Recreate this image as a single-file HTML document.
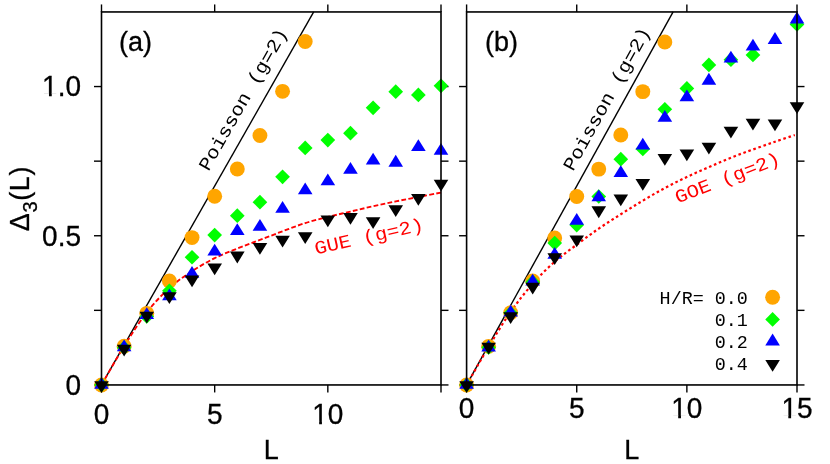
<!DOCTYPE html><html><head><meta charset="utf-8"><style>html,body{margin:0;padding:0;background:#fff}svg{display:block;opacity:0.999;will-change:transform}</style></head><body><svg width="830" height="464" viewBox="0 0 830 464">
<rect width="830" height="464" fill="#fff"/>
<style>.t{font-family:"Liberation Sans",sans-serif;font-size:27px;fill:#000;stroke:#000;stroke-width:0.3px}.m{font-family:"Liberation Mono",monospace;font-size:20.6px}</style>
<line x1="101.50" y1="384.95" x2="101.50" y2="392.45" stroke="#000" stroke-width="1.4"/>
<line x1="101.50" y1="11.95" x2="101.50" y2="4.45" stroke="#000" stroke-width="1.4"/>
<line x1="214.67" y1="384.95" x2="214.67" y2="392.45" stroke="#000" stroke-width="1.4"/>
<line x1="214.67" y1="11.95" x2="214.67" y2="4.45" stroke="#000" stroke-width="1.4"/>
<line x1="327.83" y1="384.95" x2="327.83" y2="392.45" stroke="#000" stroke-width="1.4"/>
<line x1="327.83" y1="11.95" x2="327.83" y2="4.45" stroke="#000" stroke-width="1.4"/>
<line x1="441.00" y1="384.95" x2="441.00" y2="392.45" stroke="#000" stroke-width="1.4"/>
<line x1="441.00" y1="11.95" x2="441.00" y2="4.45" stroke="#000" stroke-width="1.4"/>
<line x1="94.00" y1="384.95" x2="101.50" y2="384.95" stroke="#000" stroke-width="1.4"/>
<line x1="441.00" y1="384.95" x2="448.50" y2="384.95" stroke="#000" stroke-width="1.4"/>
<line x1="94.00" y1="310.35" x2="101.50" y2="310.35" stroke="#000" stroke-width="1.4"/>
<line x1="441.00" y1="310.35" x2="448.50" y2="310.35" stroke="#000" stroke-width="1.4"/>
<line x1="94.00" y1="235.75" x2="101.50" y2="235.75" stroke="#000" stroke-width="1.4"/>
<line x1="441.00" y1="235.75" x2="448.50" y2="235.75" stroke="#000" stroke-width="1.4"/>
<line x1="94.00" y1="161.15" x2="101.50" y2="161.15" stroke="#000" stroke-width="1.4"/>
<line x1="441.00" y1="161.15" x2="448.50" y2="161.15" stroke="#000" stroke-width="1.4"/>
<line x1="94.00" y1="86.55" x2="101.50" y2="86.55" stroke="#000" stroke-width="1.4"/>
<line x1="441.00" y1="86.55" x2="448.50" y2="86.55" stroke="#000" stroke-width="1.4"/>
<line x1="101.50" y1="384.95" x2="313.69" y2="11.95" stroke="#000" stroke-width="1.4"/>
<path d="M101.50 384.95C105.27 378.48 116.59 358.24 124.13 346.16C131.68 334.07 139.22 322.14 146.77 312.44C154.31 302.74 161.86 294.83 169.40 287.97C176.94 281.11 184.49 276.23 192.03 271.26C199.58 266.29 207.12 261.91 214.67 258.13C222.21 254.35 229.76 251.61 237.30 248.58C244.84 245.55 252.39 242.81 259.93 239.93C267.48 237.04 275.02 234.08 282.57 231.27C290.11 228.46 297.66 225.46 305.20 223.07C312.74 220.68 320.29 218.87 327.83 216.95C335.38 215.04 342.92 213.37 350.47 211.58C358.01 209.79 365.56 207.90 373.10 206.21C380.64 204.52 388.19 202.98 395.73 201.43C403.28 199.89 410.82 198.44 418.37 196.96C425.91 195.48 437.23 193.30 441.00 192.57" fill="none" stroke="#ff0000" stroke-width="1.9" stroke-dasharray="4.8 2.3"/>
<circle cx="101.50" cy="384.95" r="7.45" fill="#ffa500"/>
<circle cx="124.13" cy="346.20" r="7.45" fill="#ffa500"/>
<circle cx="146.77" cy="313.34" r="7.45" fill="#ffa500"/>
<circle cx="169.40" cy="281.07" r="7.45" fill="#ffa500"/>
<circle cx="192.03" cy="237.59" r="7.45" fill="#ffa500"/>
<circle cx="214.67" cy="196.21" r="7.45" fill="#ffa500"/>
<circle cx="237.30" cy="169.02" r="7.45" fill="#ffa500"/>
<circle cx="259.93" cy="135.55" r="7.45" fill="#ffa500"/>
<circle cx="282.57" cy="91.33" r="7.45" fill="#ffa500"/>
<circle cx="305.20" cy="41.43" r="7.45" fill="#ffa500"/>
<path d="M101.50 377.60L108.85 384.95L101.50 392.30L94.15 384.95Z" fill="#00ff00"/>
<path d="M124.13 340.35L131.48 347.70L124.13 355.05L116.78 347.70Z" fill="#00ff00"/>
<path d="M146.77 309.12L154.12 316.47L146.77 323.82L139.42 316.47Z" fill="#00ff00"/>
<path d="M169.40 283.52L176.75 290.87L169.40 298.22L162.05 290.87Z" fill="#00ff00"/>
<path d="M192.03 249.90L199.38 257.25L192.03 264.60L184.68 257.25Z" fill="#00ff00"/>
<path d="M214.67 227.70L222.02 235.05L214.67 242.40L207.32 235.05Z" fill="#00ff00"/>
<path d="M237.30 208.28L244.65 215.63L237.30 222.98L229.95 215.63Z" fill="#00ff00"/>
<path d="M259.93 194.83L267.28 202.18L259.93 209.53L252.58 202.18Z" fill="#00ff00"/>
<path d="M282.57 169.44L289.92 176.79L282.57 184.14L275.22 176.79Z" fill="#00ff00"/>
<path d="M305.20 140.54L312.55 147.89L305.20 155.24L297.85 147.89Z" fill="#00ff00"/>
<path d="M327.83 132.77L335.18 140.12L327.83 147.47L320.48 140.12Z" fill="#00ff00"/>
<path d="M350.47 125.81L357.82 133.16L350.47 140.51L343.12 133.16Z" fill="#00ff00"/>
<path d="M373.10 100.47L380.45 107.82L373.10 115.17L365.75 107.82Z" fill="#00ff00"/>
<path d="M395.73 84.28L403.08 91.63L395.73 98.98L388.38 91.63Z" fill="#00ff00"/>
<path d="M418.37 87.56L425.72 94.91L418.37 102.26L411.02 94.91Z" fill="#00ff00"/>
<path d="M441.00 78.45L448.35 85.80L441.00 93.15L433.65 85.80Z" fill="#00ff00"/>
<path d="M101.50 376.93L108.80 388.73L94.20 388.73Z" fill="#0000ff"/>
<path d="M124.13 339.47L131.43 351.27L116.83 351.27Z" fill="#0000ff"/>
<path d="M146.77 307.17L154.07 318.97L139.47 318.97Z" fill="#0000ff"/>
<path d="M169.40 288.52L176.70 300.32L162.10 300.32Z" fill="#0000ff"/>
<path d="M192.03 266.02L199.33 277.82L184.73 277.82Z" fill="#0000ff"/>
<path d="M214.67 243.76L221.97 255.56L207.37 255.56Z" fill="#0000ff"/>
<path d="M237.30 223.14L244.60 234.94L230.00 234.94Z" fill="#0000ff"/>
<path d="M259.93 218.96L267.23 230.76L252.63 230.76Z" fill="#0000ff"/>
<path d="M282.57 201.03L289.87 212.83L275.27 212.83Z" fill="#0000ff"/>
<path d="M305.20 182.51L312.50 194.31L297.90 194.31Z" fill="#0000ff"/>
<path d="M327.83 173.54L335.13 185.34L320.53 185.34Z" fill="#0000ff"/>
<path d="M350.47 161.89L357.77 173.69L343.17 173.69Z" fill="#0000ff"/>
<path d="M373.10 152.63L380.40 164.43L365.80 164.43Z" fill="#0000ff"/>
<path d="M395.73 154.84L403.03 166.64L388.43 166.64Z" fill="#0000ff"/>
<path d="M418.37 139.18L425.67 150.98L411.07 150.98Z" fill="#0000ff"/>
<path d="M441.00 143.06L448.30 154.86L433.70 154.86Z" fill="#0000ff"/>
<path d="M101.50 392.97L108.80 381.17L94.20 381.17Z" fill="#000000"/>
<path d="M124.13 356.53L131.43 344.73L116.83 344.73Z" fill="#000000"/>
<path d="M146.77 323.45L154.07 311.65L139.47 311.65Z" fill="#000000"/>
<path d="M169.40 304.03L176.70 292.23L162.10 292.23Z" fill="#000000"/>
<path d="M192.03 287.24L199.33 275.44L184.73 275.44Z" fill="#000000"/>
<path d="M214.67 275.20L221.97 263.40L207.37 263.40Z" fill="#000000"/>
<path d="M237.30 263.39L244.60 251.59L230.00 251.59Z" fill="#000000"/>
<path d="M259.93 254.73L267.23 242.93L252.63 242.93Z" fill="#000000"/>
<path d="M282.57 247.56L289.87 235.76L275.27 235.76Z" fill="#000000"/>
<path d="M305.20 244.12L312.50 232.32L297.90 232.32Z" fill="#000000"/>
<path d="M327.83 227.30L335.13 215.50L320.53 215.50Z" fill="#000000"/>
<path d="M350.47 224.70L357.77 212.90L343.17 212.90Z" fill="#000000"/>
<path d="M373.10 229.09L380.40 217.29L365.80 217.29Z" fill="#000000"/>
<path d="M395.73 216.93L403.03 205.13L388.43 205.13Z" fill="#000000"/>
<path d="M418.37 205.84L425.67 194.04L411.07 194.04Z" fill="#000000"/>
<path d="M441.00 191.62L448.30 179.82L433.70 179.82Z" fill="#000000"/>
<rect x="101.50" y="11.95" width="339.50" height="373.00" fill="none" stroke="#000" stroke-width="1.6"/>
<text transform="translate(101.50,423.9) scale(1,1.03)" class="t" style="font-size:28px" text-anchor="middle">0</text>
<text transform="translate(214.67,423.9) scale(1,1.03)" class="t" style="font-size:28px" text-anchor="middle">5</text>
<text transform="translate(327.83,423.9) scale(1,1.03)" class="t" style="font-size:28px" text-anchor="middle">10</text>
<rect x="313.40" y="420.75" width="5.76" height="4.85" fill="#fff"/>
<rect x="321.93" y="420.75" width="5.54" height="4.85" fill="#fff"/>
<text x="271.25" y="459" class="t" text-anchor="middle" style="font-size:27px">L</text>
<line x1="466.60" y1="384.95" x2="466.60" y2="392.45" stroke="#000" stroke-width="1.4"/>
<line x1="466.60" y1="11.95" x2="466.60" y2="4.45" stroke="#000" stroke-width="1.4"/>
<line x1="576.73" y1="384.95" x2="576.73" y2="392.45" stroke="#000" stroke-width="1.4"/>
<line x1="576.73" y1="11.95" x2="576.73" y2="4.45" stroke="#000" stroke-width="1.4"/>
<line x1="686.87" y1="384.95" x2="686.87" y2="392.45" stroke="#000" stroke-width="1.4"/>
<line x1="686.87" y1="11.95" x2="686.87" y2="4.45" stroke="#000" stroke-width="1.4"/>
<line x1="797.00" y1="384.95" x2="797.00" y2="392.45" stroke="#000" stroke-width="1.4"/>
<line x1="797.00" y1="11.95" x2="797.00" y2="4.45" stroke="#000" stroke-width="1.4"/>
<line x1="459.10" y1="384.95" x2="466.60" y2="384.95" stroke="#000" stroke-width="1.4"/>
<line x1="797.00" y1="384.95" x2="804.50" y2="384.95" stroke="#000" stroke-width="1.4"/>
<line x1="459.10" y1="310.35" x2="466.60" y2="310.35" stroke="#000" stroke-width="1.4"/>
<line x1="797.00" y1="310.35" x2="804.50" y2="310.35" stroke="#000" stroke-width="1.4"/>
<line x1="459.10" y1="235.75" x2="466.60" y2="235.75" stroke="#000" stroke-width="1.4"/>
<line x1="797.00" y1="235.75" x2="804.50" y2="235.75" stroke="#000" stroke-width="1.4"/>
<line x1="459.10" y1="161.15" x2="466.60" y2="161.15" stroke="#000" stroke-width="1.4"/>
<line x1="797.00" y1="161.15" x2="804.50" y2="161.15" stroke="#000" stroke-width="1.4"/>
<line x1="459.10" y1="86.55" x2="466.60" y2="86.55" stroke="#000" stroke-width="1.4"/>
<line x1="797.00" y1="86.55" x2="804.50" y2="86.55" stroke="#000" stroke-width="1.4"/>
<line x1="466.60" y1="384.95" x2="673.10" y2="11.95" stroke="#000" stroke-width="1.4"/>
<path d="M466.60 384.95C470.27 378.58 481.28 358.94 488.63 346.75C495.97 334.57 503.31 322.34 510.65 311.84C518.00 301.35 525.34 292.15 532.68 283.79C540.02 275.44 547.36 268.23 554.71 261.71C562.05 255.20 569.39 250.22 576.73 244.70C584.08 239.18 591.42 233.66 598.76 228.59C606.10 223.52 613.44 218.92 620.79 214.27C628.13 209.62 635.47 205.06 642.81 200.69C650.16 196.31 657.50 191.96 664.84 188.01C672.18 184.05 679.52 180.45 686.87 176.97C694.21 173.48 701.55 170.33 708.89 167.12C716.24 163.91 723.58 160.65 730.92 157.72C738.26 154.78 745.60 152.17 752.95 149.51C760.29 146.85 768.00 144.17 774.97 141.75C781.95 139.34 791.49 136.16 794.80 135.04" fill="none" stroke="#ff0000" stroke-width="2.2" stroke-dasharray="2.6 2.7"/>
<circle cx="466.60" cy="384.95" r="7.45" fill="#ffa500"/>
<circle cx="488.63" cy="346.35" r="7.45" fill="#ffa500"/>
<circle cx="510.65" cy="312.74" r="7.45" fill="#ffa500"/>
<circle cx="532.68" cy="280.92" r="7.45" fill="#ffa500"/>
<circle cx="554.71" cy="238.04" r="7.45" fill="#ffa500"/>
<circle cx="576.73" cy="196.51" r="7.45" fill="#ffa500"/>
<circle cx="598.76" cy="169.11" r="7.45" fill="#ffa500"/>
<circle cx="620.79" cy="134.95" r="7.45" fill="#ffa500"/>
<circle cx="642.81" cy="91.63" r="7.45" fill="#ffa500"/>
<circle cx="664.84" cy="42.03" r="7.45" fill="#ffa500"/>
<path d="M466.60 377.60L473.95 384.95L466.60 392.30L459.25 384.95Z" fill="#00ff00"/>
<path d="M488.63 340.05L495.98 347.40L488.63 354.75L481.28 347.40Z" fill="#00ff00"/>
<path d="M510.65 305.69L518.00 313.04L510.65 320.39L503.30 313.04Z" fill="#00ff00"/>
<path d="M532.68 274.61L540.03 281.96L532.68 289.31L525.33 281.96Z" fill="#00ff00"/>
<path d="M554.71 235.77L562.06 243.12L554.71 250.47L547.36 243.12Z" fill="#00ff00"/>
<path d="M576.73 217.69L584.08 225.04L576.73 232.39L569.38 225.04Z" fill="#00ff00"/>
<path d="M598.76 189.16L606.11 196.51L598.76 203.86L591.41 196.51Z" fill="#00ff00"/>
<path d="M620.79 151.81L628.14 159.16L620.79 166.51L613.44 159.16Z" fill="#00ff00"/>
<path d="M642.81 141.65L650.16 149.00L642.81 156.35L635.46 149.00Z" fill="#00ff00"/>
<path d="M664.84 101.91L672.19 109.26L664.84 116.61L657.49 109.26Z" fill="#00ff00"/>
<path d="M686.87 81.05L694.22 88.40L686.87 95.75L679.52 88.40Z" fill="#00ff00"/>
<path d="M708.89 57.53L716.24 64.88L708.89 72.23L701.54 64.88Z" fill="#00ff00"/>
<path d="M730.92 52.31L738.27 59.66L730.92 67.01L723.57 59.66Z" fill="#00ff00"/>
<path d="M752.95 47.53L760.30 54.88L752.95 62.23L745.60 54.88Z" fill="#00ff00"/>
<path d="M797.00 17.05L804.35 24.40L797.00 31.75L789.65 24.40Z" fill="#00ff00"/>
<path d="M466.60 376.93L473.90 388.73L459.30 388.73Z" fill="#0000ff"/>
<path d="M488.63 339.67L495.93 351.47L481.33 351.47Z" fill="#0000ff"/>
<path d="M510.65 304.72L517.95 316.52L503.35 316.52Z" fill="#0000ff"/>
<path d="M532.68 273.64L539.98 285.44L525.38 285.44Z" fill="#0000ff"/>
<path d="M554.71 246.90L562.01 258.70L547.41 258.70Z" fill="#0000ff"/>
<path d="M576.73 212.98L584.03 224.78L569.43 224.78Z" fill="#0000ff"/>
<path d="M598.76 189.38L606.06 201.18L591.46 201.18Z" fill="#0000ff"/>
<path d="M620.79 165.27L628.09 177.07L613.49 177.07Z" fill="#0000ff"/>
<path d="M642.81 137.78L650.11 149.58L635.51 149.58Z" fill="#0000ff"/>
<path d="M664.84 109.99L672.14 121.79L657.54 121.79Z" fill="#0000ff"/>
<path d="M686.87 89.46L694.17 101.26L679.57 101.26Z" fill="#0000ff"/>
<path d="M708.89 72.85L716.19 84.65L701.59 84.65Z" fill="#0000ff"/>
<path d="M730.92 50.80L738.22 62.60L723.62 62.60Z" fill="#0000ff"/>
<path d="M752.95 38.78L760.25 50.58L745.65 50.58Z" fill="#0000ff"/>
<path d="M774.97 32.12L782.27 43.92L767.67 43.92Z" fill="#0000ff"/>
<path d="M797.00 11.59L804.30 23.39L789.70 23.39Z" fill="#0000ff"/>
<path d="M466.60 392.97L473.90 381.17L459.30 381.17Z" fill="#000000"/>
<path d="M488.63 354.53L495.93 342.73L481.33 342.73Z" fill="#000000"/>
<path d="M510.65 324.05L517.95 312.25L503.35 312.25Z" fill="#000000"/>
<path d="M532.68 294.47L539.98 282.67L525.38 282.67Z" fill="#000000"/>
<path d="M554.71 265.04L562.01 253.24L547.41 253.24Z" fill="#000000"/>
<path d="M576.73 247.26L584.03 235.46L569.43 235.46Z" fill="#000000"/>
<path d="M598.76 218.16L606.06 206.36L591.46 206.36Z" fill="#000000"/>
<path d="M620.79 206.20L628.09 194.40L613.49 194.40Z" fill="#000000"/>
<path d="M642.81 190.70L650.11 178.90L635.51 178.90Z" fill="#000000"/>
<path d="M664.84 165.81L672.14 154.01L657.54 154.01Z" fill="#000000"/>
<path d="M686.87 161.20L694.17 149.40L679.57 149.40Z" fill="#000000"/>
<path d="M708.89 154.54L716.19 142.74L701.59 142.74Z" fill="#000000"/>
<path d="M730.92 138.61L738.22 126.81L723.62 126.81Z" fill="#000000"/>
<path d="M752.95 130.43L760.25 118.63L745.65 118.63Z" fill="#000000"/>
<path d="M774.97 131.32L782.27 119.52L767.67 119.52Z" fill="#000000"/>
<path d="M797.00 113.93L804.30 102.13L789.70 102.13Z" fill="#000000"/>
<rect x="466.60" y="11.95" width="330.40" height="373.00" fill="none" stroke="#000" stroke-width="1.6"/>
<text transform="translate(466.60,418.3) scale(1,1.03)" class="t" style="font-size:28px" text-anchor="middle">0</text>
<text transform="translate(576.73,418.3) scale(1,1.03)" class="t" style="font-size:28px" text-anchor="middle">5</text>
<text transform="translate(686.87,418.3) scale(1,1.03)" class="t" style="font-size:28px" text-anchor="middle">10</text>
<rect x="672.43" y="415.15" width="5.76" height="4.85" fill="#fff"/>
<rect x="680.96" y="415.15" width="5.54" height="4.85" fill="#fff"/>
<text transform="translate(797.00,418.3) scale(1,1.03)" class="t" style="font-size:28px" text-anchor="middle">15</text>
<rect x="782.56" y="415.15" width="5.76" height="4.85" fill="#fff"/>
<rect x="791.10" y="415.15" width="5.54" height="4.85" fill="#fff"/>
<text x="631.80" y="459" class="t" text-anchor="middle" style="font-size:27px">L</text>
<text transform="translate(81,394.75) scale(1,1.03)" class="t" style="font-size:28px" text-anchor="end">0</text>
<text transform="translate(81,245.55) scale(1,1.03)" class="t" style="font-size:28px" text-anchor="end">0.5</text>
<text transform="translate(81,96.35) scale(1,1.03)" class="t" style="font-size:28px" text-anchor="end">1.0</text>
<rect x="43.21" y="93.20" width="5.76" height="4.85" fill="#fff"/>
<rect x="51.75" y="93.20" width="5.54" height="4.85" fill="#fff"/>
<text transform="translate(28.9,198.6) rotate(-90)" class="t" text-anchor="middle" style="letter-spacing:0.6px">Δ<tspan dy="8.2" style="font-size:20px">3</tspan><tspan dy="-8.2">(L)</tspan></text>
<text x="119" y="50.5" class="t" style="font-size:27px">(a)</text>
<text x="485" y="50.5" class="t" style="font-size:27px">(b)</text>
<text transform="translate(208.5,172) rotate(-60.37) scale(1,0.9)" class="m">Poisson (g=2)</text>
<text transform="translate(573,172) rotate(-61.03) scale(1,0.9)" class="m">Poisson (g=2)</text>
<text transform="translate(316,254.5) rotate(-12.7) scale(1,0.9)" class="m" fill="#ff0000">GUE (g=2)</text>
<text transform="translate(677.7,203.5) rotate(-21.2) scale(1,0.9)" class="m" fill="#ff0000">GOE (g=2)</text>
<text x="659.6" y="303.5" class="m" style="font-size:18.4px">H/R= 0.0</text>
<text x="714.8" y="325.7" class="m" style="font-size:18.4px">0.1</text>
<text x="714.8" y="347.9" class="m" style="font-size:18.4px">0.2</text>
<text x="714.8" y="370.1" class="m" style="font-size:18.4px">0.4</text>
<circle cx="772.60" cy="297.20" r="7.45" fill="#ffa500"/>
<path d="M772.60 312.05L779.95 319.40L772.60 326.75L765.25 319.40Z" fill="#00ff00"/>
<path d="M772.60 333.58L779.90 345.38L765.30 345.38Z" fill="#0000ff"/>
<path d="M772.60 371.82L779.90 360.02L765.30 360.02Z" fill="#000000"/>
</svg></body></html>
